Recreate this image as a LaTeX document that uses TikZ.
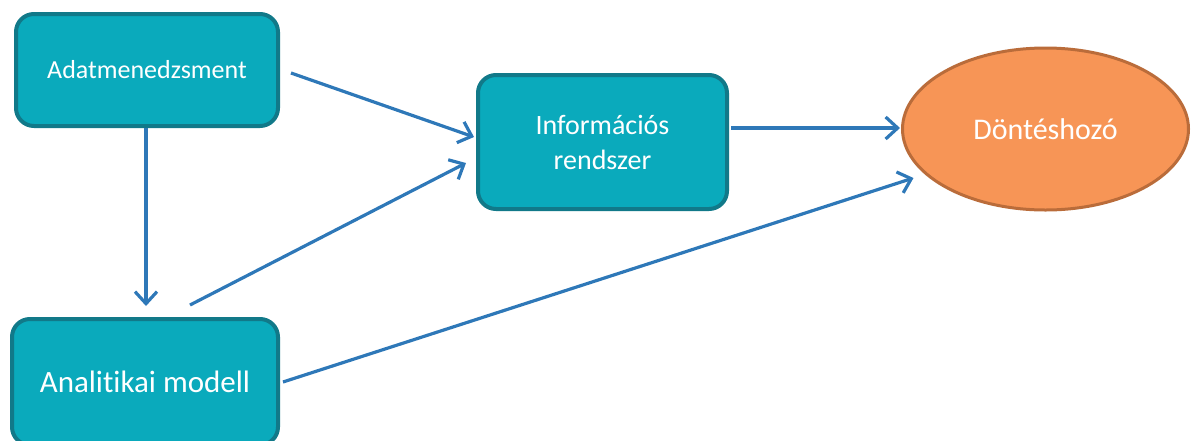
\documentclass[tikz,border=0pt]{standalone}
\usepackage{fontspec}
\setmainfont[Ligatures=NoCommon]{Carlito}
\usetikzlibrary{shapes.geometric,arrows.meta,calc}
\definecolor{tealfill}{RGB}{10,170,188}
\definecolor{tealline}{RGB}{17,121,137}
\definecolor{orangefill}{RGB}{247,149,86}
\definecolor{orangeline}{RGB}{186,108,58}
\definecolor{arrowblue}{RGB}{46,120,184}
\begin{document}
\begin{tikzpicture}[x=1pt,y=-1pt,
  tealbox/.style={draw=tealline,fill=tealfill,line width=4pt,rounded corners=18pt,
    text=white,align=center,inner sep=0pt},
  decider/.style={ellipse,draw=orangeline,fill=orangefill,line width=3pt,
    text=white,inner sep=0pt,minimum width=286pt,minimum height=162pt},
  flow/.style={draw=arrowblue,line width=3.2pt,
    -{Straight Barb[length=12pt,width=22pt,line width=3.2pt]}}]
\useasboundingbox (0,0) rectangle (1192,440);

% boxes
\node[tealbox,minimum width=262pt,minimum height=112pt,font=\fontsize{26}{31}\selectfont]
  (adat) at (147,70) {Adatmenedzsment};
\node[tealbox,minimum width=249pt,minimum height=134pt,font=\fontsize{28}{35}\selectfont]
  (info) at (602.5,142) {Információs\\rendszer};
\node[tealbox,minimum width=266pt,minimum height=126pt,font=\fontsize{31}{37}\selectfont]
  (anal) at (145,382) {Analitikai modell};
\node[decider,font=\fontsize{30}{36}\selectfont] (dec) at (1045.5,129) {Döntéshozó};

% connectors
\draw[flow] ($(adat.east)+(11,3)$) -- ($(info.west)+(-2,-5)$);
\draw[flow] ($(adat.south)+(-1,0)$) -- ($(anal.north)+(1,-11)$);
\draw[flow] ($(anal.north)+(45,-12)$) -- ($(info.west)+(-10,21)$);
\draw[flow] ($(info.east)+(2,-14)$) -- ($(dec.west)+(-1,-1)$);
\draw[flow] ($(anal.east)+(3,0)$) -- ($(dec.center)+(-132,49)$);
\end{tikzpicture}
\end{document}
